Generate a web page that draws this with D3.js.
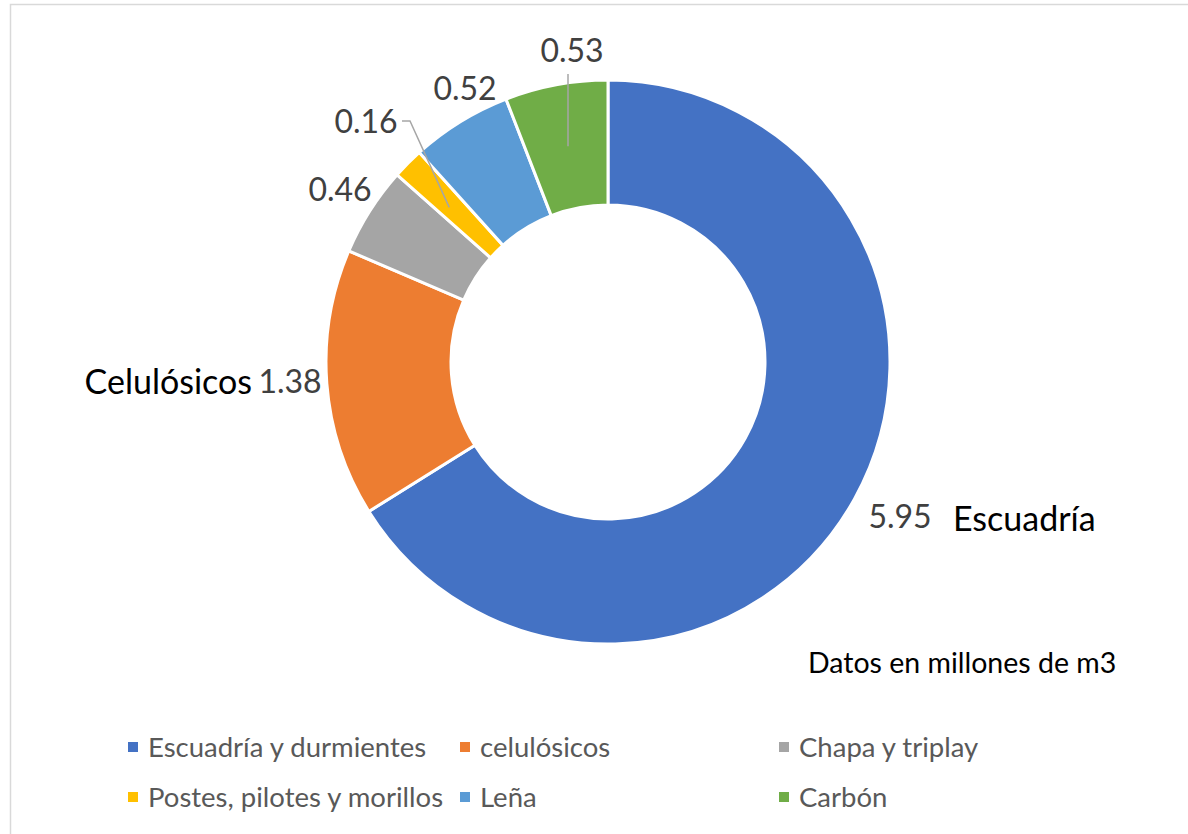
<!DOCTYPE html>
<html>
<head>
<meta charset="utf-8">
<script src="https://cdn.jsdelivr.net/npm/d3@7/dist/d3.min.js"></script>
<style>
  html, body { margin: 0; padding: 0; background: #fff; }
  svg { display: block; }
  text { font-family: Lato, "Open Sans", sans-serif; }
</style>
</head>
<body>
<script>
// ---- data ----
const categories = ["Escuadría y durmientes", "celulósicos", "Chapa y triplay",
                    "Postes, pilotes y morillos", "Leña", "Carbón"];
const values = [5.95, 1.38, 0.46, 0.16, 0.52, 0.53];
const colors = ["#4472C4", "#ED7D31", "#A5A5A5", "#FFC000", "#5B9BD5", "#70AD47"];
const valueLabels = ["5.95", "1.38", "0.46", "0.16", "0.52", "0.53"];
const categoryLabels = [{i: 1, text: "Celulósicos"}, {i: 0, text: "Escuadría"}];
const note = "Datos en millones de m3";

// ---- layout (kept separate from data) ----
const W = 1188, H = 834;
const cx = 608, cy = 362, outerR = 282, innerR = 157;
const valueLabelPos = [
  {x: 900, y: 528}, {x: 290, y: 393}, {x: 340, y: 201},
  {x: 366, y: 133}, {x: 465, y: 100}, {x: 572, y: 62}
];
const catLabelPos = [{x: 252, y: 394, anchor: "end"}, {x: 953, y: 531, anchor: "start"}];

const svg = d3.select("body").append("svg").attr("width", W).attr("height", H);

// chart border
svg.append("rect").attr("x", 10.5).attr("y", 4.5).attr("width", W + 20).attr("height", H + 20)
  .attr("fill", "#fff").attr("stroke", "#d9d9d9").attr("stroke-width", 1.5);

const pie = d3.pie().sort(null).value(d => d)(values);
const arc = d3.arc().innerRadius(innerR).outerRadius(outerR);

const g = svg.append("g").attr("transform", `translate(${cx},${cy})`);
g.selectAll("path").data(pie).join("path")
  .attr("d", arc)
  .attr("fill", (d, i) => colors[i])
  .attr("stroke", "#fff").attr("stroke-width", 3).attr("stroke-linejoin", "miter");

// leader lines (for the two labels that use them)
const leader = d3.line();
const c53 = arc.centroid(pie[5]);
const c16 = arc.centroid(pie[3]);
svg.append("path")
  .attr("d", leader([[568, 74], [568, cy + c53[1]]]))
  .attr("fill", "none").attr("stroke", "#A6A6A6").attr("stroke-width", 1.5);
svg.append("path")
  .attr("d", leader([[402, 121], [410, 121], [cx + c16[0] - 3, cy + c16[1]]]))
  .attr("fill", "none").attr("stroke", "#A6A6A6").attr("stroke-width", 1.5);

// value labels
svg.selectAll("text.val").data(valueLabels).join("text")
  .attr("class", "val")
  .attr("x", (d, i) => valueLabelPos[i].x)
  .attr("y", (d, i) => valueLabelPos[i].y)
  .attr("text-anchor", "middle")
  .attr("font-size", 32)
  .attr("fill", "#404040")
  .text(d => d);

// category labels
svg.selectAll("text.cat").data(categoryLabels).join("text")
  .attr("class", "cat")
  .attr("x", (d, k) => catLabelPos[k].x)
  .attr("y", (d, k) => catLabelPos[k].y)
  .attr("text-anchor", (d, k) => catLabelPos[k].anchor)
  .attr("font-size", 34)
  .attr("fill", "#000")
  .text(d => d.text);

svg.append("text").attr("x", 808).attr("y", 673)
  .attr("font-size", 28.5).attr("fill", "#000").text(note);

// legend
const colX = [128, 460, 779];
const rowY = [747, 797];
const leg = svg.append("g");
categories.forEach((c, i) => {
  const col = i % 3, row = Math.floor(i / 3);
  const item = leg.append("g").attr("transform", `translate(${colX[col]},${rowY[row]})`);
  item.append("rect").attr("x", 0).attr("y", -5).attr("width", 10).attr("height", 10).attr("fill", colors[i]);
  item.append("text").attr("x", 20).attr("y", 9.5).attr("font-size", 27.5).attr("fill", "#595959").text(c);
});
</script>
</body>
</html>
